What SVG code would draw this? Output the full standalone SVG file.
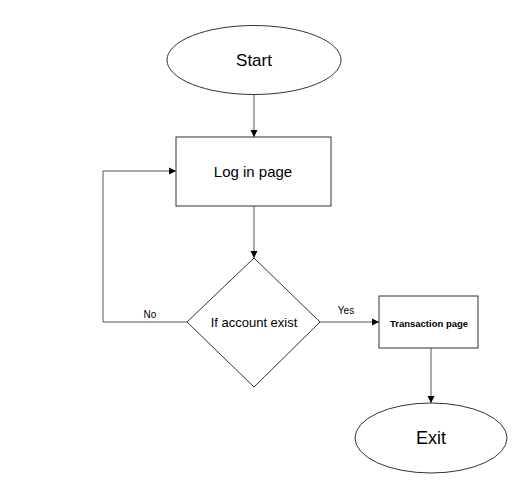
<svg xmlns="http://www.w3.org/2000/svg" width="516" height="483" viewBox="0 0 516 483">
<defs>
<marker id="arr" markerWidth="8" markerHeight="8" refX="7" refY="4" orient="auto" markerUnits="userSpaceOnUse">
<path d="M0,0.5 L7,4 L0,7.5 z" fill="#000"/>
</marker>
<style>
.shape{fill:#fff;stroke:#333;stroke-width:1}
.conn{fill:none;stroke:#555;stroke-width:1}
text{font-family:"Liberation Sans",Arial,sans-serif;fill:#000;text-anchor:middle;dominant-baseline:central}
</style>
</defs>
<rect width="516" height="483" fill="#fff"/>
<g id="connectors">
<path class="conn" d="M254,94 V137" marker-end="url(#arr)"/>
<path class="conn" d="M254,206 V258" marker-end="url(#arr)"/>
<path class="conn" d="M187,322 H103 V171 H176" marker-end="url(#arr)"/>
<path class="conn" d="M320,322 H379" marker-end="url(#arr)"/>
<path class="conn" d="M431,348 V403" marker-end="url(#arr)"/>
<text x="150" y="314" font-size="10">No</text>
<text x="346" y="310" font-size="10">Yes</text>
</g>
<g id="start">
<ellipse class="shape" cx="254" cy="60" rx="87" ry="34.5"/>
<text x="254" y="60" font-size="17">Start</text>
</g>
<g id="login">
<rect class="shape" x="176" y="137" width="155" height="69"/>
<text x="253" y="171" font-size="15">Log in page</text>
</g>
<g id="decision">
<polygon class="shape" points="254,258 320,322 254,387 187,322"/>
<text x="254" y="322" font-size="13">If account exist</text>
</g>
<g id="transaction">
<rect class="shape" x="379" y="296" width="99" height="52"/>
<text x="429" y="323" font-size="9.5" font-weight="bold">Transaction page</text>
</g>
<g id="exit">
<ellipse class="shape" cx="431" cy="438" rx="76" ry="35"/>
<text x="431" y="438" font-size="18">Exit</text>
</g>
</svg>
